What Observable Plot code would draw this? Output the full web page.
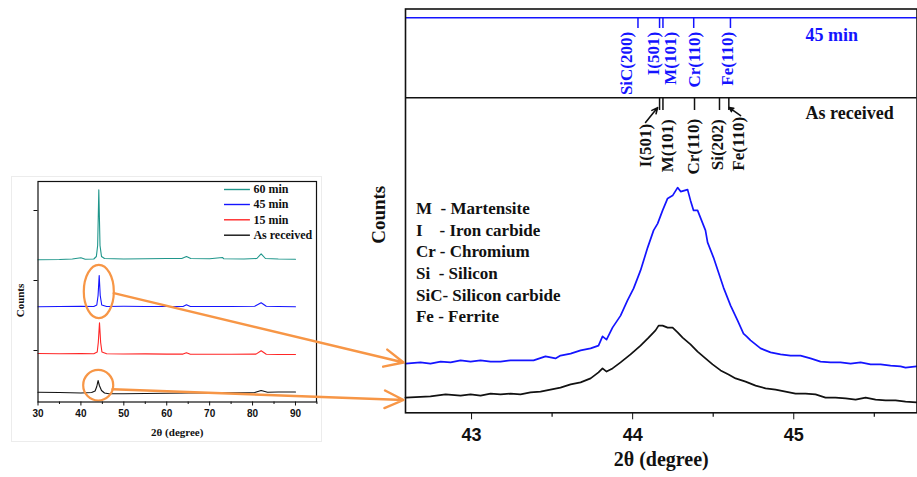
<!DOCTYPE html>
<html>
<head>
<meta charset="utf-8">
<script src="https://cdn.jsdelivr.net/npm/d3@7"></script>
<script src="https://cdn.jsdelivr.net/npm/@observablehq/plot@0.6"></script>
<style>
html, body { margin: 0; padding: 0; background: #fff; }
#fig { position: relative; width: 917px; height: 477px; overflow: hidden; background: #fff; }
#fig svg { position: absolute; left: 0; top: 0; }
#fig text { white-space: pre; }
.insetBox { position: absolute; left: 11px; top: 176px; width: 311px; height: 266px; border: 1px solid #ececec; box-sizing: border-box; }
</style>
</head>
<body>
<div id="fig"><div class="insetBox"></div></div>
<script>
// ================= DATA =================
// Inset: full XRD patterns (2θ, counts, offset stacked)
const insetNames = ["60 min", "45 min", "15 min", "As received"];
const inset60 = [[30,1407],[35,1410],[38,1415],[40,1427],[41,1412],[43,1415],[43.6,1440],[43.9,1550],[44.05,1850],[44.17,2107],[44.3,1850],[44.45,1550],[44.8,1440],[45.5,1420],[50,1415],[55,1417],[60,1420],[63.5,1420],[64.6,1440],[65.6,1420],[70,1418],[73,1430],[73.3,1417],[78,1415],[81,1420],[82,1467],[83,1420],[86,1415],[90,1413]];
const inset45 = [[30,937],[35,940],[40,942],[43,940],[43.7,955],[44.0,1050],[44.26,1250],[44.5,1050],[44.85,955],[46,940],[50,942],[55,940],[60,940],[63.8,940],[64.6,957],[65.5,940],[70,940],[75,940],[80.5,942],[82,977],[83.2,942],[86,940],[90,938]];
const inset15 = [[30,470],[35,467],[40,470],[43,467],[43.8,485],[44.05,580],[44.33,777],[44.6,580],[44.9,485],[46,467],[50,465],[55,466],[60,464],[63.8,464],[64.6,477],[65.5,462],[70,462],[75,462],[80.8,464],[82,497],[83.2,462],[86,460],[90,460]];
const insetAR = [[30,83],[35,80],[40,75],[42.5,80],[43.3,95],[43.7,140],[44.0,200],[44.3,150],[44.8,100],[45.5,75],[46.5,67],[50,67],[55,70],[60,73],[65,75],[70,76],[75,77],[80.5,80],[82,100],[83.5,83],[86,85],[90,85]];
const insetXTicks = [30, 40, 50, 60, 70, 80, 90];
const insetMinorTicks = [35, 45, 55, 65, 75, 85, 95];
const insetYTicks = [500, 1200, 1900];

// Main: zoom on the (110) region, 45 min vs as received
const main45 = [[42.590,123],[42.683,126],[42.745,123],[42.808,128],[42.870,126],[42.932,131],[42.994,128],[43.056,131],[43.118,128],[43.180,128],[43.242,131],[43.304,131],[43.385,131],[43.459,141],[43.521,136],[43.552,143],[43.615,148],[43.677,156],[43.739,161],[43.788,168],[43.813,191],[43.838,183],[43.875,213],[43.925,243],[43.968,281],[44.006,311],[44.049,356],[44.093,413],[44.130,456],[44.155,473],[44.186,506],[44.217,536],[44.248,543],[44.279,563],[44.298,553],[44.341,558],[44.359,531],[44.378,506],[44.403,506],[44.452,456],[44.465,426],[44.502,388],[44.564,313],[44.608,268],[44.651,231],[44.688,198],[44.707,191],[44.732,181],[44.794,161],[44.856,151],[44.918,146],[44.980,143],[45.042,143],[45.104,136],[45.166,128],[45.228,126],[45.290,126],[45.353,123],[45.415,126],[45.477,121],[45.539,121],[45.601,118],[45.663,116],[45.694,113],[45.762,116]];
const mainAR = [[42.590,38],[42.745,41],[42.839,46],[42.932,43],[42.994,46],[43.056,43],[43.118,48],[43.180,46],[43.242,48],[43.304,46],[43.366,51],[43.428,53],[43.490,58],[43.552,63],[43.615,71],[43.677,76],[43.739,86],[43.788,101],[43.813,111],[43.838,103],[43.875,111],[43.925,126],[43.987,146],[44.049,168],[44.099,188],[44.142,206],[44.161,218],[44.186,218],[44.217,213],[44.248,213],[44.279,201],[44.310,188],[44.359,171],[44.403,153],[44.452,136],[44.496,121],[44.546,106],[44.595,96],[44.639,86],[44.701,78],[44.763,68],[44.825,61],[44.887,58],[44.949,53],[45.011,48],[45.073,48],[45.135,46],[45.197,38],[45.259,38],[45.322,36],[45.384,33],[45.446,38],[45.508,33],[45.570,31],[45.632,31],[45.694,28],[45.762,26]];
const mainXTicks = [43, 44, 45];
const mainMinorTicks = [43.5, 44.5, 45.5];

// Peak markers (2θ of reflection, 2θ of label)
const peaks45 = ["SiC(200)", "I(501)", "M(101)", "Cr(110)", "Fe(110)"];
const peaks45Pos = [44.033, 44.167, 44.188, 44.379, 44.607];
const peaks45LabelPos = [43.962, 44.127, 44.236, 44.385, 44.590];
const peaksAR = ["I(501)", "M(101)", "Cr(110)", "Si(202)", "Fe(110)"];
const peaksARPos = [44.167, 44.188, 44.384, 44.539, 44.597];
const peaksARLabelPos = [44.080, 44.217, 44.378, 44.527, 44.658];
const phaseKey = ["M  - Martensite", "I    - Iron carbide", "Cr - Chromium", "Si  - Silicon", "SiC- Silicon carbide", "Fe - Ferrite"];

// ================= LAYOUT / STYLE =================
const W = 917, H = 477;
const serif = "'Liberation Serif', 'Times New Roman', serif";
const sans = "'Liberation Sans', Arial, sans-serif";
const teal = "#1f968b", blue = "#1414ff", red = "#ff2626", black = "#111111", orange = "#F79646";
const insetColors = [teal, blue, red, black];
const insetData = [inset60, inset45, inset15, insetAR];

const fig = document.getElementById("fig");

// ---------- inset ----------
const inset = {left: 37.5, right: 316, top: 181, bottom: 401.5, xDomain: [30, 94.9], yDomain: [-15, 2190]};
const insetKx = (inset.right - inset.left) / (inset.xDomain[1] - inset.xDomain[0]);
const insetKy = (inset.bottom - inset.top) / (inset.yDomain[1] - inset.yDomain[0]);
const legendRows = [2110, 1960, 1807, 1653];
const legendX1 = 73.46, legendX2 = 79.5, legendTextX = 80.2;
const insetLabelY = 1000;
const zoomMarks = [{x: 44.17, y: 1090, rx: 3.5, ry: 267}, {x: 44.03, y: 153, rx: 3.5, ry: 153}];

function ellipseSymbol(rx, ry) {
  const k = 0.5522847;
  return {draw(ctx) {
    ctx.moveTo(rx, 0);
    ctx.bezierCurveTo(rx, k * ry, k * rx, ry, 0, ry);
    ctx.bezierCurveTo(-k * rx, ry, -rx, k * ry, -rx, 0);
    ctx.bezierCurveTo(-rx, -k * ry, -k * rx, -ry, 0, -ry);
    ctx.bezierCurveTo(k * rx, -ry, rx, -k * ry, rx, 0);
    ctx.closePath();
  }};
}

const insetMarks = [];
insetData.forEach((s, i) => {
  insetMarks.push(Plot.line(s, {x: d => d[0], y: d => d[1], stroke: insetColors[i], strokeWidth: 1.1}));
});
insetMarks.push(
  Plot.ruleX(insetMinorTicks, {x: d => d, y1: inset.yDomain[0], y2: inset.yDomain[0] - 2.5 / insetKy, stroke: black}),
  Plot.ruleY(insetNames.map((n, i) => ({n, y: legendRows[i], c: insetColors[i]})), {y: "y", x1: legendX1, x2: legendX2, stroke: "c", strokeWidth: 1.4}),
  Plot.text(insetNames.map((n, i) => ({n, y: legendRows[i]})), {x: legendTextX, y: "y", text: "n", textAnchor: "start", fontFamily: serif, fontWeight: "bold", fontSize: 12, fill: black}),
  ...zoomMarks.map(e => Plot.dot([e], {x: "x", y: "y", r: 5, symbol: ellipseSymbol(e.rx * insetKx, e.ry * insetKy), stroke: orange, strokeWidth: 2.2, fill: "none"})),
  Plot.text(["Counts"], {x: inset.xDomain[0], y: insetLabelY, dx: -17.5, rotate: -90, fontFamily: serif, fontWeight: "bold", fontSize: 11, fill: black}),
  Plot.text(["2θ (degree)"], {frameAnchor: "bottom", dy: 34, fontFamily: serif, fontWeight: "bold", fontSize: 11, fill: black}),
  Plot.frame({stroke: black, strokeWidth: 1.2})
);

const insetPlot = Plot.plot({
  width: W, height: H,
  marginLeft: inset.left, marginRight: W - inset.right, marginTop: inset.top, marginBottom: H - inset.bottom,
  style: {background: "transparent", font: `bold 10px ${sans}`, color: black, overflow: "visible"},
  x: {domain: inset.xDomain, ticks: insetXTicks, tickSize: 4, tickPadding: 4, tickFormat: d3.format("d"), label: null},
  y: {domain: inset.yDomain, ticks: insetYTicks, tickSize: 4, tickFormat: () => "", label: null},
  marks: insetMarks
});
fig.appendChild(insetPlot);

// ---------- main ----------
const main = {left: 405, right: 916.5, top: 8.5, bottom: 412.3, xDomain: [42.59, 45.765], yDomain: [0, 1009.5]};
const mainKy = (main.bottom - main.top) / (main.yDomain[1] - main.yDomain[0]);
const line45 = 987.5, lineAR = 787.5;          // reference lines for the peak markers
const tick45 = 10.7 / mainKy, tickAR = 12.7 / mainKy;
const labelDyAR = [26, 21.5, 21, 21.5, 19];
const markerArrows = [{x1: 44.080, y1: 726, x2: 44.155, y2: 763}, {x1: 44.670, y1: 743, x2: 44.599, y2: 763}];
const keyX = 42.655, keyTop = 510, keyStep = 54;
const mainLabelY = 495;

const txt = {fontFamily: serif, fontWeight: "bold"};
const mainPlot = Plot.plot({
  width: W, height: H,
  marginLeft: main.left, marginRight: W - main.right, marginTop: main.top, marginBottom: H - main.bottom,
  style: {background: "transparent", font: `bold 18px ${sans}`, color: black, overflow: "visible"},
  x: {domain: main.xDomain, ticks: mainXTicks, tickSize: 7, tickPadding: 8, tickFormat: d3.format("d"), label: null},
  y: {domain: main.yDomain, axis: null},
  marks: [
    Plot.ruleY([line45], {stroke: blue, strokeWidth: 1.5}),
    Plot.ruleY([lineAR], {stroke: black, strokeWidth: 1.5}),
    Plot.ruleX(peaks45Pos, {x: d => d, y1: line45, y2: line45 - tick45, stroke: blue, strokeWidth: 1.5}),
    Plot.ruleX(peaksARPos, {x: d => d, y1: lineAR, y2: lineAR - tickAR, stroke: black, strokeWidth: 1.5}),
    Plot.text(peaks45.map((t, i) => ({t, x: peaks45LabelPos[i]})), {x: "x", y: line45, text: "t", dy: 14, rotate: -90, textAnchor: "end", fill: blue, fontSize: 17, ...txt}),
    ...peaksAR.map((t, i) => Plot.text([t], {x: peaksARLabelPos[i], y: lineAR, text: d => d, dy: labelDyAR[i], rotate: -90, textAnchor: "end", fill: black, fontSize: 17, ...txt})),
    Plot.arrow(markerArrows, {x1: "x1", y1: "y1", x2: "x2", y2: "y2", stroke: black, strokeWidth: 1.6, headLength: 8, headAngle: 50}),
    Plot.text(["45 min"], {x: 45.073, y: line45, dy: 17, textAnchor: "start", fill: blue, fontSize: 18, ...txt}),
    Plot.text(["As received"], {x: 45.073, y: lineAR, dy: 15, textAnchor: "start", fill: black, fontSize: 18, ...txt}),
    Plot.text(phaseKey.map((t, i) => ({t, y: keyTop - i * keyStep})), {x: keyX, y: "y", text: "t", textAnchor: "start", fill: black, fontSize: 17, ...txt}),
    Plot.line(mainAR, {x: d => d[0], y: d => d[1], stroke: black, strokeWidth: 1.7}),
    Plot.line(main45, {x: d => d[0], y: d => d[1], stroke: blue, strokeWidth: 1.7}),
    Plot.ruleX(mainMinorTicks, {x: d => d, y1: main.yDomain[0], y2: main.yDomain[0] - 4.5 / mainKy, stroke: black, strokeWidth: 1.2}),
    Plot.text(["Counts"], {x: main.xDomain[0], y: mainLabelY, dx: -27, rotate: -90, fill: black, fontSize: 19, ...txt}),
    Plot.text(["2θ (degree)"], {frameAnchor: "bottom", dy: 53, fill: black, fontSize: 20, ...txt}),
    Plot.frame({stroke: black, strokeWidth: 1.6})
  ]
});
fig.appendChild(mainPlot);

// ---------- zoom connectors (positions from both charts' scales) ----------
const ix = insetPlot.scale("x"), iy = insetPlot.scale("y");
const mx = mainPlot.scale("x"), my = mainPlot.scale("y");
const connectorFrom = [[47.66, 1073], [47.36, 113]];   // inset data units
const connectorTo = [[42.578, 125.75], [42.578, 32]];  // main data units
const connectors = connectorFrom.map((f, i) => ({
  x1: ix.apply(f[0]), y1: iy.apply(f[1]),
  x2: mx.apply(connectorTo[i][0]), y2: my.apply(connectorTo[i][1])
}));
const overlay = Plot.plot({
  width: W, height: H, margin: 0,
  style: {background: "transparent", overflow: "visible", pointerEvents: "none"},
  x: {type: "identity", axis: null},
  y: {type: "identity", axis: null},
  marks: [
    Plot.arrow(connectors, {x1: "x1", y1: "y1", x2: "x2", y2: "y2", stroke: orange, strokeWidth: 2.4, headLength: 13, headAngle: 50})
  ]
});
fig.appendChild(overlay);
</script>
</body>
</html>
